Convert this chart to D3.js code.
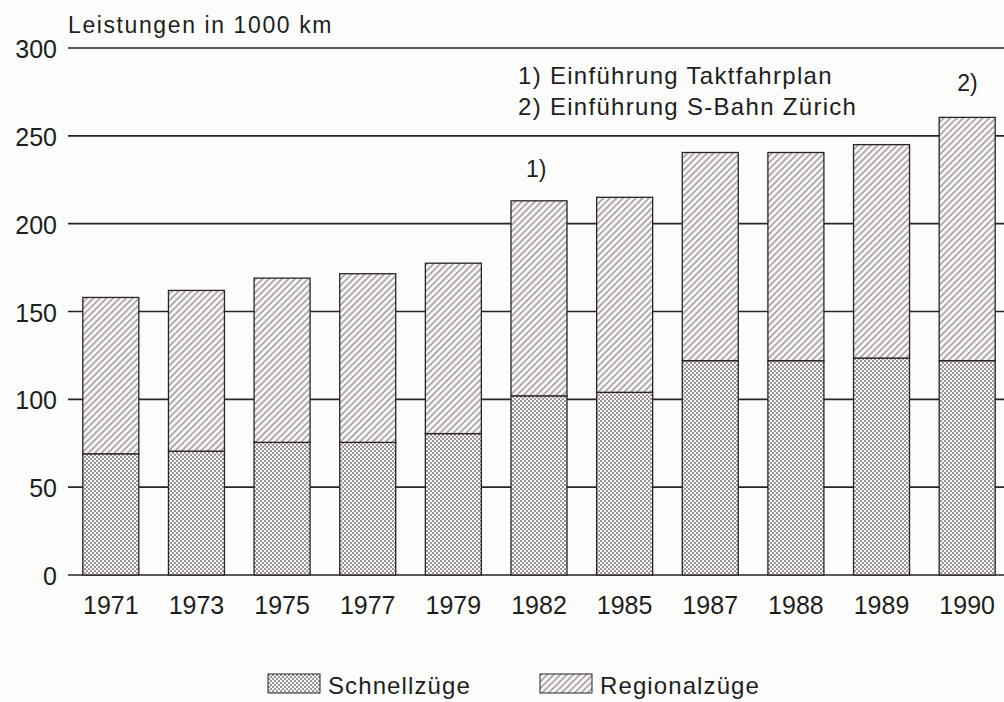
<!DOCTYPE html>
<html>
<head>
<meta charset="utf-8">
<script src="https://cdnjs.cloudflare.com/ajax/libs/d3/7.8.5/d3.min.js"></script>
<style>
  body { margin: 0; background: #fcfcfb; }
  svg { display: block; font-family: "Liberation Sans", Arial, sans-serif; }
  .grid line { stroke: #2b2326; stroke-width: 1.6; }
  .lbl { fill: #1e1e1e; }
</style>
</head>
<body>
<div id="graph"></div>
<script>
"use strict";

// data (1000 km)
var years = ["1971", "1973", "1975", "1977", "1979", "1982", "1985", "1987", "1988", "1989", "1990"];
var schnellzuege = [69, 70.5, 75.5, 75.5, 80.5, 102, 104, 122, 122, 123.5, 122];
var regionalzuege = [89, 91.5, 93.5, 96, 97, 111, 111, 118.5, 118.5, 121.5, 138.5];
var yTicks = [0, 50, 100, 150, 200, 250, 300];
var seriesNames = ["Schnellzüge", "Regionalzüge"];

var width = 1004, height = 702;

var svg = d3.select("#graph").append("svg")
  .attr("width", width)
  .attr("height", height);

svg.append("rect")
  .attr("width", width)
  .attr("height", height)
  .attr("fill", "#fcfcfb");

// hatch patterns
var defs = svg.append("defs");

var dots = defs.append("pattern")
  .attr("id", "pat-schnell")
  .attr("patternUnits", "userSpaceOnUse")
  .attr("width", 4)
  .attr("height", 4);
dots.append("rect").attr("width", 4).attr("height", 4).attr("fill", "#f6f4f4");
dots.append("circle").attr("cx", 1).attr("cy", 1).attr("r", 0.8).attr("fill", "#2a2326");
dots.append("circle").attr("cx", 3).attr("cy", 3).attr("r", 0.8).attr("fill", "#2a2326");

var diag = defs.append("pattern")
  .attr("id", "pat-regional")
  .attr("patternUnits", "userSpaceOnUse")
  .attr("width", 4.6)
  .attr("height", 4.6)
  .attr("patternTransform", "rotate(45)");
diag.append("rect").attr("width", 4.6).attr("height", 4.6).attr("fill", "#f8f6f6");
diag.append("line")
  .attr("x1", 1).attr("y1", 0)
  .attr("x2", 1).attr("y2", 4.6)
  .attr("stroke", "#5a4f53")
  .attr("stroke-width", 0.85);

var fills = ["url(#pat-schnell)", "url(#pat-regional)"];

var x = d3.scaleBand()
  .domain(years)
  .range([68, 1010])
  .paddingInner(0.346)
  .paddingOuter(0.173);

var y = d3.scaleLinear()
  .domain([0, 300])
  .range([575, 48]);

//horizontal grid lines
svg.append("g")
  .attr("class", "grid")
  .selectAll("line")
  .data(yTicks)
  .join("line")
  .attr("x1", 68)
  .attr("x2", width)
  .attr("y1", function(d) { return y(d); })
  .attr("y2", function(d) { return y(d); });

// y labels
svg.append("g")
  .selectAll("text")
  .data(yTicks)
  .join("text")
  .attr("class", "lbl")
  .attr("x", 57)
  .attr("y", function(d) { return y(d) + 10; })
  .attr("text-anchor", "end")
  .style("font-size", "25px")
  .text(function(d) { return d; });

svg.append("text")
  .attr("class", "lbl")
  .attr("x", 68)
  .attr("y", 33)
  .style("font-size", "23px")
  .style("letter-spacing", "1.6px")
  .text("Leistungen in 1000 km");

// stacked bars
var table = years.map(function(yr, i) {
  return { year: yr, s: schnellzuege[i], r: regionalzuege[i] };
});
var stack = d3.stack().keys(["s", "r"])(table);

svg.append("g")
  .selectAll("g")
  .data(stack)
  .join("g")
  .attr("fill", function(d, i) { return fills[i]; })
  .selectAll("rect")
  .data(function(d) { return d; })
  .join("rect")
  .attr("x", function(d) { return x(d.data.year); })
  .attr("y", function(d) { return y(d[1]); })
  .attr("width", x.bandwidth())
  .attr("height", function(d) { return y(d[0]) - y(d[1]); })
  .attr("stroke", "#2b2326")
  .attr("stroke-width", 1.3);

// year labels
svg.append("g")
  .selectAll("text")
  .data(years)
  .join("text")
  .attr("class", "lbl")
  .attr("x", function(d) { return x(d) + x.bandwidth() / 2; })
  .attr("y", 614)
  .attr("text-anchor", "middle")
  .style("font-size", "25px")
  .text(function(d) { return d; });

// footnotes
svg.append("text").attr("class", "lbl")
  .attr("x", 518).attr("y", 84)
  .style("font-size", "24px").style("letter-spacing", "1.3px")
  .text("1) Einführung Taktfahrplan");
svg.append("text").attr("class", "lbl")
  .attr("x", 518).attr("y", 115)
  .style("font-size", "24px").style("letter-spacing", "1.3px")
  .text("2) Einführung S-Bahn Zürich");
svg.append("text").attr("class", "lbl")
  .attr("x", x("1982") + x.bandwidth() / 2 - 13).attr("y", y(schnellzuege[5] + regionalzuege[5]) - 24)
  .style("font-size", "23px")
  .text("1)");
svg.append("text").attr("class", "lbl")
  .attr("x", x("1990") + x.bandwidth() / 2 - 10).attr("y", y(schnellzuege[10] + regionalzuege[10]) - 26)
  .style("font-size", "23px")
  .text("2)");

// legend
var legend = svg.append("g")
  .selectAll("g")
  .data(seriesNames)
  .join("g")
  .attr("transform", function(d, i) { return "translate(" + (268 + i * 272) + ",674)"; });

legend.append("rect")
  .attr("width", 52)
  .attr("height", 19)
  .attr("fill", function(d, i) { return fills[i]; })
  .attr("stroke", "#2b2326")
  .attr("stroke-width", 1);

legend.append("text")
  .attr("class", "lbl")
  .attr("x", 60)
  .attr("y", 20)
  .style("font-size", "24px")
  .style("letter-spacing", "1.1px")
  .text(function(d) { return d; });
</script>
</body>
</html>
